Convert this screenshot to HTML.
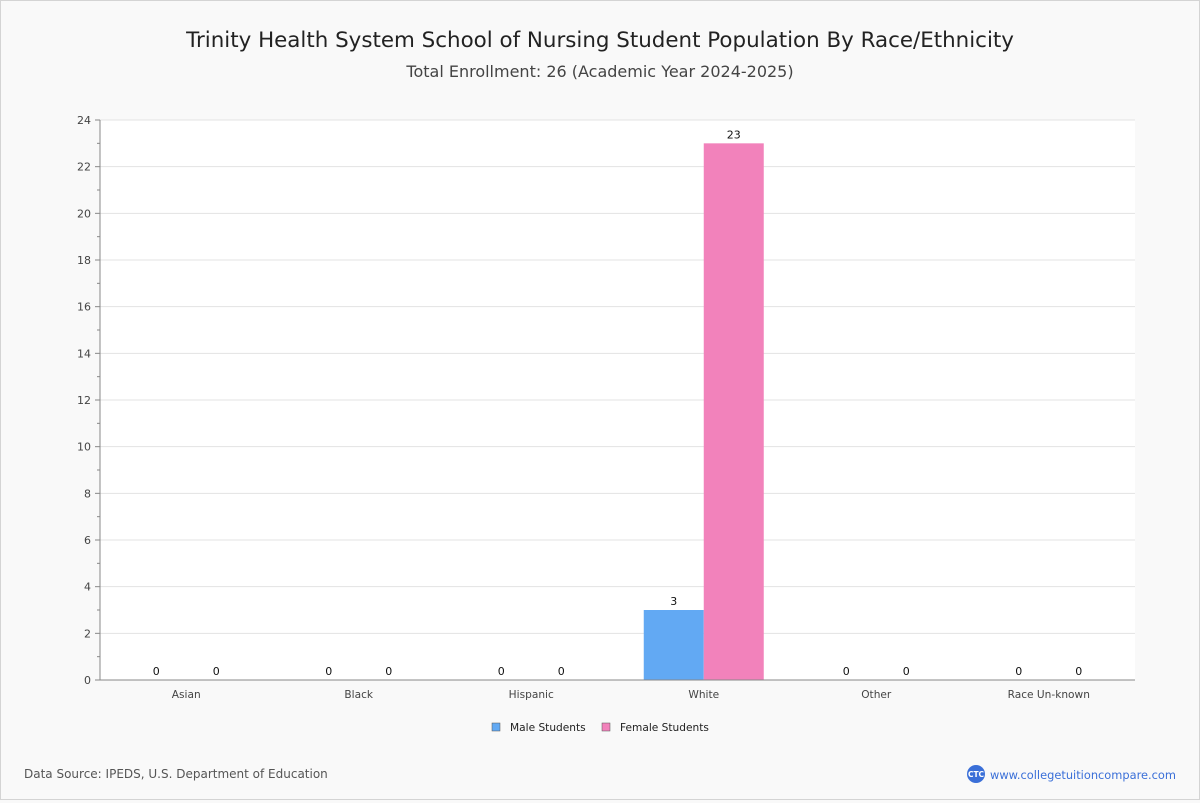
<!DOCTYPE html>
<html><head><meta charset="utf-8"><style>
html,body{margin:0;padding:0;background:#f9f9f9;}
#wrap{position:relative;width:1198px;height:798px;border:1px solid #d4d4d4;background:#f9f9f9;font-family:"DejaVu Sans","Liberation Sans",sans-serif;}
svg text{font-family:"DejaVu Sans","Liberation Sans",sans-serif;}
</style></head><body>
<div id="wrap">
<svg id="chart" width="1198" height="798">
<text x="599" y="46" text-anchor="middle" font-size="21.4" fill="#222">Trinity Health System School of Nursing Student Population By Race/Ethnicity</text>
<text x="599" y="76" text-anchor="middle" font-size="16" fill="#444">Total Enrollment: 26 (Academic Year 2024-2025)</text>
<rect x="99" y="119" width="1035" height="560" fill="#fff"/>
<g id="grid"></g><g id="bars"></g><g id="axes"></g>
<g>
<g><rect x="491" y="722" width="8" height="8" fill="#62a9f3" stroke="#555" stroke-width="0.5"/><text x="509" y="730" font-size="10.6" fill="#222">Male Students</text></g>
<g><rect x="601" y="722" width="8" height="8" fill="#f282bb" stroke="#555" stroke-width="0.5"/><text x="619" y="730" font-size="10.6" fill="#222">Female Students</text></g>
</g>
<text x="23" y="777" font-size="12" fill="#555">Data Source: IPEDS, U.S. Department of Education</text>
<g>
<circle cx="975" cy="773" r="9" fill="#3a6fd8"/><text x="975" y="776" text-anchor="middle" font-size="7.5" fill="#fff" font-weight="bold">CTC</text>
<text x="989" y="778" font-size="11.5" fill="#3a6fd8" textLength="186" lengthAdjust="spacingAndGlyphs">www.collegetuitioncompare.com</text></g>
</svg></div>
<script>
const categories=["Asian","Black","Hispanic","White","Other","Race Un-known"];
const maleValues=[0,0,0,3,0,0];
const femaleValues=[0,0,0,23,0,0];
const yTicks=[0,2,4,6,8,10,12,14,16,18,20,22,24];
const NS="http://www.w3.org/2000/svg";
const X0=99,X1=1134,Y0=679,Y1=119,YMAX=24;
const band=(X1-X0)/categories.length, bw=60;
const y=v=>Y0-(v/YMAX)*(Y0-Y1);
const xc=i=>X0+band*(i+0.5);
function mk(t,a,p){const e=document.createElementNS(NS,t);for(const k in a)e.setAttribute(k,a[k]);p.appendChild(e);return e;}
const g=document.getElementById('grid'),b=document.getElementById('bars'),ax=document.getElementById('axes');
yTicks.forEach(v=>{
 if(v>0){const l=mk('line',{x1:X0,x2:X1,y1:y(v),y2:y(v),stroke:'#e3e3e3'},g);
 
 }
 mk('line',{x1:X0-5,x2:X0,y1:y(v),y2:y(v),stroke:'#888'},ax);
 if(v<YMAX)mk('line',{x1:X0-3,x2:X0,y1:y(v+1),y2:y(v+1),stroke:'#888'},ax);
 const t=mk('text',{x:X0-9,y:y(v)+4,'text-anchor':'end','font-size':11,fill:'#444'},ax);t.textContent=v;
 
 
});
mk('line',{x1:X0,x2:X0,y1:Y1,y2:Y0,stroke:'#888'},ax);
mk('line',{x1:X0,x2:X1,y1:Y0,y2:Y0,stroke:'#888'},ax);
categories.forEach((c,i)=>{
 const t=mk('text',{x:xc(i),y:697,'text-anchor':'middle','font-size':10.6,fill:'#444'},ax);t.textContent=c;
 
 
 [[maleValues[i],'#62a9f3',xc(i)-bw],[femaleValues[i],'#f282bb',xc(i)]].forEach(([v,col,x],k)=>{
  const r=mk('rect',{x:x,y:y(v),width:bw,height:Y0-y(v),fill:col},b);
  
  
  const l=mk('text',{x:x+bw/2,y:y(v)-5,'text-anchor':'middle','font-size':11,fill:'#111'},b);l.textContent=v;
  
  
 });
});
</script>
</body></html>
